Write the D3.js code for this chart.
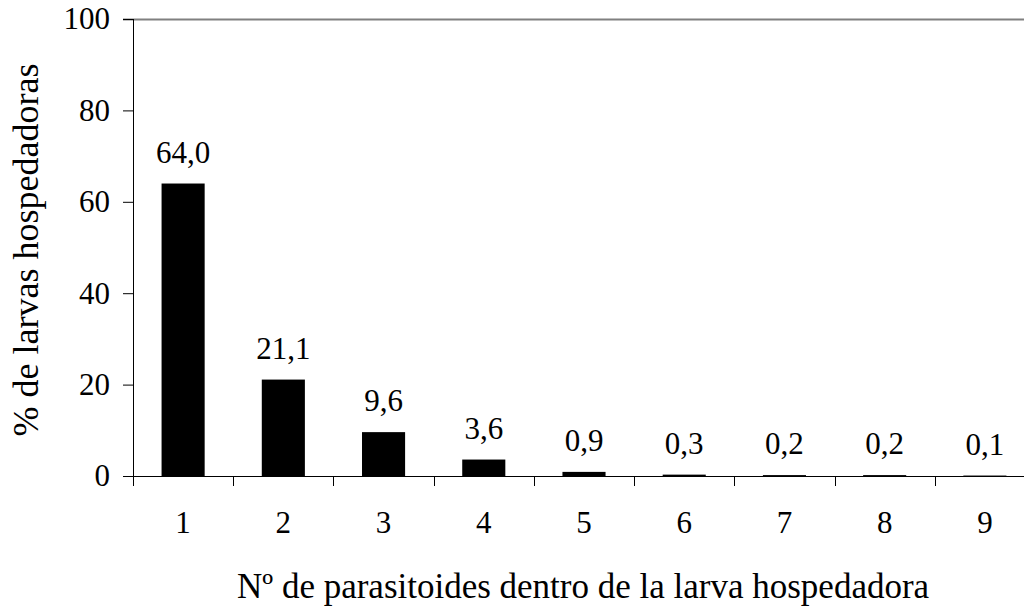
<!DOCTYPE html>
<html>
<head>
<meta charset="utf-8">
<script src="https://cdnjs.cloudflare.com/ajax/libs/d3/7.8.5/d3.min.js"></script>
</head>
<body style="margin:0; background:#fff;">
<script>
var width = 1024;
var height = 607;
var margin = {top: 19, right: -11, bottom: 131, left: 133};
var w = width - margin.left - margin.right;
var h = height - margin.top - margin.bottom;
var font = "Liberation Serif";

// data
var categories = ["1", "2", "3", "4", "5", "6", "7", "8", "9"];
var values = [64.0, 21.1, 9.6, 3.6, 0.9, 0.3, 0.2, 0.2, 0.1];
var labels = ["64,0", "21,1", "9,6", "3,6", "0,9", "0,3", "0,2", "0,2", "0,1"];
var yTicks = [0, 20, 40, 60, 80, 100];

var svg = d3.select("body").append("svg")
    .attr("width", width)
    .attr("height", height)
    .attr("font-family", font)
    .style("display", "block");

var chart = svg.append("g")
    .attr("transform", "translate(" + margin.left + "," + margin.top + ")");

var x = d3.scaleBand()
    .domain(categories)
    .range([0, w])
    .paddingInner(0.57)
    .paddingOuter(0.285);

var y = d3.scaleLinear()
    .domain([0, 100])
    .range([h, 0]);

// top border of plot area
chart.append("line")
    .attr("x1", -10).attr("x2", w)
    .attr("y1", 0.5).attr("y2", 0.5)
    .attr("stroke", "#808080")
    .attr("stroke-width", 2);

// bars
chart.selectAll("rect.bar")
    .data(values)
  .enter().append("rect")
    .attr("class", "bar")
    .attr("x", function(d, i) { return x(categories[i]); })
    .attr("width", x.bandwidth())
    .attr("y", function(d) { return y(d); })
    .attr("height", function(d) { return h - y(d); })
    .attr("fill", "#000");

// value labels
chart.selectAll("text.val")
    .data(values)
  .enter().append("text")
    .attr("class", "val")
    .attr("x", function(d, i) { return x(categories[i]) + x.bandwidth() / 2; })
    .attr("y", function(d) { return y(d) - 21; })
    .attr("text-anchor", "middle")
    .attr("font-family", font)
    .attr("font-size", 31)
    .attr("fill", "#000")
    .text(function(d, i) { return labels[i]; });

// y axis
var yAxis = chart.append("g")
    .call(d3.axisLeft(y).tickValues(yTicks).tickSize(10).tickPadding(13).tickFormat(d3.format("d")))
    .attr("font-family", font)
    .attr("font-size", 31);
yAxis.select(".domain").remove();
yAxis.append("line")
    .attr("x1", 0.5).attr("x2", 0.5)
    .attr("y1", 0).attr("y2", h + 10)
    .attr("stroke", "#000");
yAxis.selectAll(".tick line").attr("stroke", "#000");
yAxis.selectAll(".tick text")
    .attr("font-family", font)
    .attr("font-size", 31)
    .attr("fill", "#000");

// x axis: ticks between categories
var xAxisG = chart.append("g")
    .attr("transform", "translate(0," + h + ")");
xAxisG.append("line")
    .attr("x1", 0).attr("x2", w)
    .attr("y1", 0.5).attr("y2", 0.5)
    .attr("stroke", "#000");
xAxisG.selectAll("line.tk")
    .data(categories.slice(1))
  .enter().append("line")
    .attr("class", "tk")
    .attr("x1", function(d) { return Math.round(x(d) - x.step() * x.paddingInner() / 2) + 0.5; })
    .attr("x2", function(d) { return Math.round(x(d) - x.step() * x.paddingInner() / 2) + 0.5; })
    .attr("y1", 0).attr("y2", 10)
    .attr("stroke", "#000");
xAxisG.selectAll("text.xl")
    .data(categories)
  .enter().append("text")
    .attr("class", "xl")
    .attr("x", function(d) { return x(d) + x.bandwidth() / 2; })
    .attr("y", 57)
    .attr("text-anchor", "middle")
    .attr("font-family", font)
    .attr("font-size", 31)
    .attr("fill", "#000")
    .text(function(d) { return d; });

// axis titles
svg.append("text")
    .attr("x", 237)
    .attr("y", 598)
    .attr("text-anchor", "start")
    .attr("font-family", font)
    .attr("font-size", 35)
    .attr("fill", "#000")
    .text("Nº de parasitoides dentro de la larva hospedadora");

svg.append("text")
    .attr("transform", "translate(38,250) rotate(-90)")
    .attr("text-anchor", "middle")
    .attr("font-family", font)
    .attr("font-size", 36)
    .attr("fill", "#000")
    .text("% de larvas hospedadoras");
</script>
</body>
</html>
